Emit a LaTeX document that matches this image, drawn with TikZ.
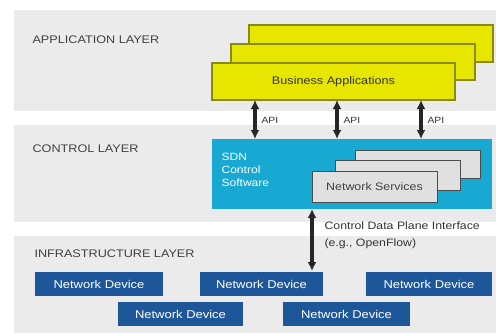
\documentclass[tikz,border=0pt]{standalone}
\usepackage{fontspec}
\setmainfont[FakeStretch=1.15]{Liberation Sans}
\usetikzlibrary{arrows.meta}
\definecolor{band}{HTML}{EBEBEB}
\definecolor{appyel}{HTML}{E6E600}
\definecolor{appedge}{HTML}{8A8A10}
\definecolor{sdncyan}{HTML}{17A9D1}
\definecolor{nsgray}{HTML}{E0E0E0}
\definecolor{devblue}{HTML}{1E5799}
\tikzset{
  bandbox/.style={fill=band, draw=none},
  appbox/.style={fill=appyel, draw=appedge, line width=1.2pt},
  nsbox/.style={fill=nsgray, draw=black!70, line width=1pt},
  devbox/.style={fill=devblue, draw=none, text=white, font=\fontsize{11.3}{13}\selectfont},
  layerlabel/.style={anchor=west, text=black!75, font=\fontsize{11}{13}\selectfont},
  dblarrow/.style={{Latex[length=9pt,width=9pt]}-{Latex[length=9pt,width=9pt]}, line width=3.2pt, black!85},
  apilabel/.style={anchor=west, font=\fontsize{9}{10}\selectfont, text=black!80},
}
\begin{document}
\begin{tikzpicture}[x=1pt,y=-1pt]
\useasboundingbox (0,0) rectangle (496,333);
\fill[white] (0,0) rectangle (496,333);
% bands
\fill[bandbox] (14,10) rectangle (496,111);
\fill[bandbox] (14,125) rectangle (496,222);
\fill[bandbox] (14,236) rectangle (496,333);
\node[layerlabel] (applbl) at (29,40) {APPLICATION LAYER};
\node[layerlabel] (ctllbl) at (29,149) {CONTROL LAYER};
\node[layerlabel] (inflbl) at (31,254) {INFRASTRUCTURE LAYER};
% application boxes
\draw[appbox] (249,25) rectangle (493,62);
\draw[appbox] (231,44) rectangle (475,80);
\draw[appbox] (212,63) rectangle (455,100);
\node[font=\fontsize{11}{13}\selectfont, text=black!80] (biz) at (333.5,81.5) {Business Applications};
\coordinate (a1t) at (255,100);
\coordinate (a2t) at (337,100);
\coordinate (a3t) at (421,100);
% control box
\fill[sdncyan] (212,139) rectangle (492,209);
\node[anchor=north west, align=left, text=white, font=\fontsize{10.5}{12.8}\selectfont] (sdn) at (218,150) {SDN\\Control\\Software};
\draw[nsbox] (355,150) rectangle (480,178);
\draw[nsbox] (335,160) rectangle (460,190);
\draw[nsbox] (312,171) rectangle (437,202);
\node[font=\fontsize{10.8}{12}\selectfont, text=black!75] (ns) at (374.5,186.5) {Network Services};
\coordinate (a1b) at (255,139);
\coordinate (a2b) at (337,139);
\coordinate (a3b) at (421,139);
\draw[dblarrow] (a1t) -- (a1b);
\draw[dblarrow] (a2t) -- (a2b);
\draw[dblarrow] (a3t) -- (a3b);
\node[apilabel] (api1) at (258,120) {API};
\node[apilabel] (api2) at (340,120) {API};
\node[apilabel] (api3) at (424,120) {API};
% control-data plane
\coordinate (cdt) at (312,209);
\coordinate (cdb) at (312,271);
\draw[dblarrow] (cdt) -- (cdb);
\node[anchor=west, align=left, font=\fontsize{10.7}{17}\selectfont, text=black!80] (cdpi) at (321,235) {Control Data Plane Interface\\(e.g., OpenFlow)};
% devices
\node[devbox, minimum width=128pt, minimum height=24pt] (d1) at (99,284) {Network Device};
\node[devbox, minimum width=123pt, minimum height=24pt] (d2) at (261.5,284) {Network Device};
\node[devbox, minimum width=126pt, minimum height=24pt] (d3) at (429,284) {Network Device};
\node[devbox, minimum width=125pt, minimum height=24pt] (d4) at (180.5,314) {Network Device};
\node[devbox, minimum width=127pt, minimum height=24pt] (d5) at (346.5,314) {Network Device};
\end{tikzpicture}
\end{document}
